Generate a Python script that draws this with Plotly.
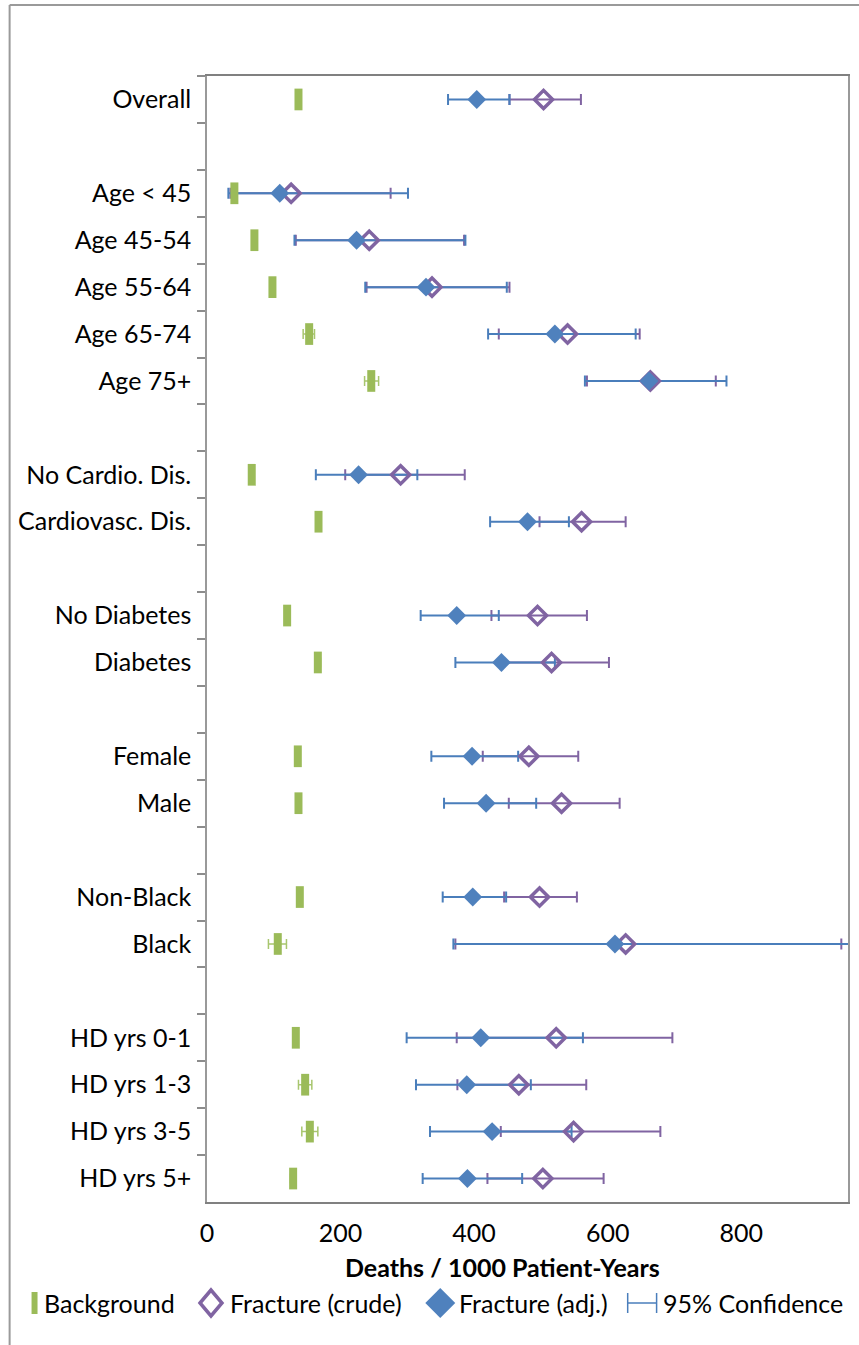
import plotly.graph_objects as go

# ---- data: deaths per 1000 patient-years ----
groups = [
    ["Overall"],
    ["Age < 45", "Age 45-54", "Age 55-64", "Age 65-74", "Age 75+"],
    ["No Cardio. Dis.", "Cardiovasc. Dis."],
    ["No Diabetes", "Diabetes"],
    ["Female", "Male"],
    ["Non-Black", "Black"],
    ["HD yrs 0-1", "HD yrs 1-3", "HD yrs 3-5", "HD yrs 5+"],
]
labels = [lab for g in groups for lab in g]

background    = [137, 41, 71, 98, 153, 246, 67, 167, 120, 166, 136, 137, 139, 106, 133, 147, 154, 129]
background_lo = [134, 38, 68, 95, 144, 236, 65, 164, 118, 162, 133, 135, 137, 92, 130, 137, 142, 125]
background_hi = [140, 44, 74, 101, 161, 257, 69, 170, 122, 170, 139, 139, 141, 119, 136, 157, 166, 133]

crude    = [504, 126, 243, 337, 540, 664, 290, 561, 495, 516, 482, 531, 498, 627, 523, 467, 549, 503]
crude_lo = [453, 35, 133, 239, 437, 569, 207, 498, 426, 442, 413, 452, 445, 372, 374, 375, 440, 420]
crude_hi = [560, 275, 385, 453, 648, 762, 386, 627, 569, 602, 556, 618, 554, 950, 697, 568, 679, 594]

adjusted    = [404, 109, 224, 328, 521, 662, 227, 480, 374, 441, 397, 418, 398, 611, 410, 389, 427, 390]
adjusted_lo = [361, 32, 131, 237, 421, 566, 163, 424, 320, 372, 336, 355, 353, 369, 299, 313, 334, 323]
adjusted_hi = [453, 301, 387, 449, 642, 778, 315, 542, 437, 521, 466, 493, 448, 1000, 563, 485, 546, 472]

x_ticks = [0, 200, 400, 600, 800]

# ---- styling ----
GREEN = "#9BBB59"
GREEN_ERR = "#A8C66E"
PURPLE = "#8064A2"
BLUE = "#4F81BD"
BLUE_ERR = "#4A7EBB"
FONT = "Lato"
W, H = 859, 1345
L, R, T, B = 207, 850, 76, 1202

# category order with empty spacer rows between groups
row_order = []
for i, g in enumerate(groups):
    if i > 0:
        row_order.append(" " * i)
    row_order.extend(g)


def err(vals, lo, hi):
    return dict(type="data", symmetric=False,
                array=[h - v for v, h in zip(vals, hi)],
                arrayminus=[v - l for v, l in zip(vals, lo)])


fig = go.Figure()

clear = dict(size=1, color="rgba(0,0,0,0)")
# error bars first so that every marker sits on top of them
fig.add_trace(go.Scatter(x=background, y=labels, mode="markers", marker=clear,
                         error_x=dict(**err(background, background_lo, background_hi),
                                      color=GREEN_ERR, thickness=1.5, width=5),
                         showlegend=False, hoverinfo="skip"))
fig.add_trace(go.Scatter(x=crude, y=labels, mode="markers", marker=clear,
                         error_x=dict(**err(crude, crude_lo, crude_hi),
                                      color=PURPLE, thickness=2, width=5.5),
                         showlegend=False, hoverinfo="skip"))
fig.add_trace(go.Scatter(x=adjusted, y=labels, mode="markers", marker=clear,
                         error_x=dict(**err(adjusted, adjusted_lo, adjusted_hi),
                                      color=BLUE_ERR, thickness=2, width=5.5),
                         showlegend=False, hoverinfo="skip"))

fig.add_trace(go.Scatter(x=background, y=labels, mode="markers", name="Background",
                         marker=dict(symbol="line-ns", size=15.5,
                                     line=dict(width=8, color=GREEN), color=GREEN),
                         showlegend=False))
fig.add_trace(go.Scatter(x=crude, y=labels, mode="markers", name="Fracture (crude)",
                         marker=dict(symbol="diamond-open", size=14, color=PURPLE,
                                     line=dict(width=3.5, color=PURPLE)),
                         showlegend=False))
fig.add_trace(go.Scatter(x=adjusted, y=labels, mode="markers", name="Fracture (adj.)",
                         marker=dict(symbol="diamond", size=14.5, color=BLUE,
                                     line=dict(width=0)),
                         showlegend=False))


# ---- pixel helpers for items placed outside the plot area ----
def px(x):
    return (x - L) / (R - L)


def py(y):
    return (B - y) / (B - T)


shapes = []
# outer chart frame
shapes.append(dict(type="line", xref="paper", yref="paper", x0=px(9), x1=px(W + 5),
                   y0=py(5), y1=py(5), line=dict(color="#9a9a9a", width=2)))
shapes.append(dict(type="line", xref="paper", yref="paper", x0=px(9), x1=px(9),
                   y0=py(5), y1=py(H + 5), line=dict(color="#9a9a9a", width=2)))

# legend glyphs
LY = 1303
shapes.append(dict(type="rect", xref="paper", yref="paper", x0=px(31), x1=px(37),
                   y0=py(1314), y1=py(1292), fillcolor=GREEN, line=dict(width=0)))


def diamond_path(cx, cy, hw, hh):
    return (f"M {px(cx - hw)} {py(cy)} L {px(cx)} {py(cy - hh)} "
            f"L {px(cx + hw)} {py(cy)} L {px(cx)} {py(cy + hh)} Z")


shapes.append(dict(type="path", xref="paper", yref="paper",
                   path=diamond_path(211, LY, 11, 13), fillcolor="white",
                   line=dict(color=PURPLE, width=3.5)))
shapes.append(dict(type="path", xref="paper", yref="paper",
                   path=diamond_path(441, LY, 15, 15), fillcolor=BLUE,
                   line=dict(width=0)))
for seg in [(629, LY, 658, LY), (629, LY - 10, 629, LY + 10), (658, LY - 10, 658, LY + 10)]:
    shapes.append(dict(type="line", xref="paper", yref="paper",
                       x0=px(seg[0]), y0=py(seg[1]), x1=px(seg[2]), y1=py(seg[3]),
                       line=dict(color=BLUE_ERR, width=1.5)))

annotations = []
for text, x0 in [("Background", 41), ("Fracture (crude)", 228),
                 ("Fracture (adj.)", 458), ("95% Confidence", 662)]:
    annotations.append(dict(text=text, xref="paper", yref="paper", x=px(x0), y=py(LY),
                            xanchor="left", yanchor="middle", showarrow=False,
                            font=dict(family=FONT, size=25, color="black")))

# x-axis title
annotations.append(dict(text="<b>Deaths / 1000 Patient-Years</b>", xref="paper",
                        yref="paper", x=px(503), y=py(1267), xanchor="center",
                        yanchor="middle", showarrow=False,
                        font=dict(family=FONT, size=25, color="black")))

fig.update_layout(
    width=W, height=H, autosize=False,
    margin=dict(l=L, r=W - R, t=T, b=H - B, pad=0),
    paper_bgcolor="white", plot_bgcolor="white",
    font=dict(family=FONT, size=25, color="black"),
    shapes=shapes, annotations=annotations, showlegend=False,
)
fig.update_xaxes(range=[0, 960], tickvals=x_ticks, ticktext=[str(v) for v in x_ticks],
                 showgrid=False, zeroline=False, showline=True, mirror=True,
                 linecolor="#808080", linewidth=1.5, ticks="", ticklabelstandoff=8,
                 tickfont=dict(family=FONT, size=25, color="black"))
fig.update_yaxes(type="category", categoryorder="array", categoryarray=row_order,
                 range=[len(row_order) - 0.5, -0.5], tickson="boundaries",
                 ticks="outside", ticklen=8, tickwidth=1.5, tickcolor="#8c8c8c",
                 showgrid=False, zeroline=False, showline=True, mirror=True,
                 linecolor="#999999", linewidth=1.5, ticklabelstandoff=9,
                 tickfont=dict(family=FONT, size=25, color="black"))

fig.write_html("out.html")
